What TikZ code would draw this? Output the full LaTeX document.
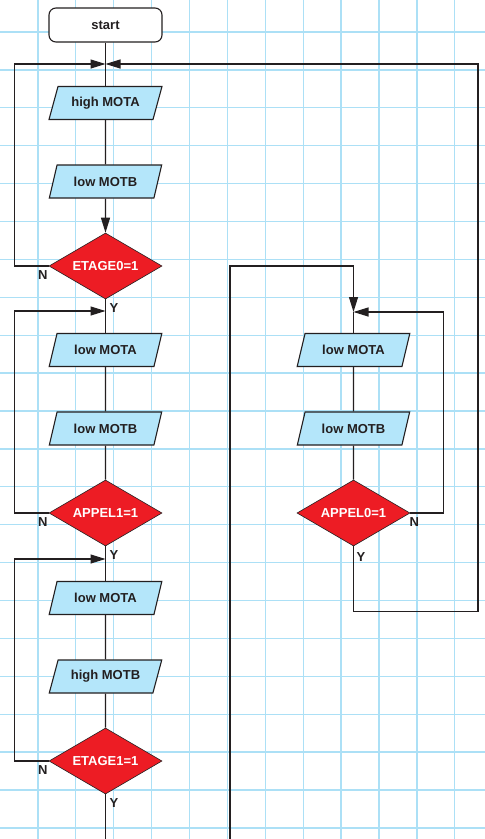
\documentclass[tikz,border=0pt]{standalone}
\usepackage{fontspec}
\setmainfont{Liberation Sans}
\usetikzlibrary{shapes.geometric,arrows.meta,calc}
\definecolor{gridc}{RGB}{172,224,246}
\definecolor{ink}{RGB}{35,31,32}
\definecolor{pfill}{RGB}{180,230,250}
\definecolor{dred}{RGB}{237,28,36}
\tikzset{
  base/.style={font=\fontsize{13}{13}\selectfont\bfseries, text=ink},
  para/.style={base, trapezium, trapezium left angle=62, trapezium right angle=118,
    trapezium stretches=true, minimum width=113pt, minimum height=33pt, inner sep=0pt,
    draw=ink, line width=1.1pt, fill=pfill},
  dec/.style={base, diamond, aspect=1.71, minimum width=113pt, minimum height=66pt,
    inner sep=0pt, draw=ink, line width=0.6pt, fill=dred, text=white},
  term/.style={base, rectangle, rounded corners=7pt, minimum width=113pt, minimum height=34pt,
    inner sep=0pt, draw=ink, line width=1.1pt, fill=white},
  lbl/.style={base, inner sep=0pt},
  conn/.style={draw=ink, line width=1.1pt},
  arr/.style={-{Triangle[length=15pt,width=9pt]}},
}
\begin{document}
\begin{tikzpicture}[x=1pt,y=-1pt]
\useasboundingbox (0,0) rectangle (485,839);
\fill[white] (0,0) rectangle (485,839);
% grid
\foreach \i in {1,...,12} \draw[gridc,line width=1.3pt] (37.9*\i,0) -- (37.9*\i,839);
\foreach \j in {0,...,21} \draw[gridc,line width=1.3pt] (0,32+37.9*\j) -- (485,32+37.9*\j);

% main column
\node[term] (start) at (105.5,25) {start};
\coordinate (m1) at (105.5,64);
\node[para] (p1) at (105.5,103) {high MOTA};
\node[para] (p2) at (105.5,181.5) {low MOTB};
\node[dec] (d0) at (105.5,266) {ETAGE0=1};
\coordinate (m2) at (105.5,311);
\node[para] (p3) at (105.5,350) {low MOTA};
\node[para] (p4) at (105.5,428.5) {low MOTB};
\node[dec] (d1) at (105.5,513) {APPEL1=1};
\coordinate (m3) at (105.5,559);
\node[para] (p5) at (105.5,598) {low MOTA};
\node[para] (p6) at (105.5,676.5) {high MOTB};
\node[dec] (d2) at (105.5,761) {ETAGE1=1};
\coordinate (bm) at (105.5,839);

% right column
\coordinate (bl) at (230,839);
\coordinate (m4) at (353.5,312);
\node[para] (q1) at (353.5,350) {low MOTA};
\node[para] (q2) at (353.5,428.5) {low MOTB};
\node[dec] (a0) at (353.5,513) {APPEL0=1};

% labels
\node[lbl] (n0) at ($(d0.west)+(-6,9.5)$) {N};
\node[lbl] (y0) at ($(d0.south)+(8.5,8.5)$) {Y};
\node[lbl] (n1) at ($(d1.west)+(-6,9.5)$) {N};
\node[lbl] (y1) at ($(d1.south)+(8.5,8.5)$) {Y};
\node[lbl] (n2) at ($(d2.west)+(-6,9.5)$) {N};
\node[lbl] (y2) at ($(d2.south)+(8.5,8.5)$) {Y};
\node[lbl] (n3) at ($(a0.east)+(4,9.5)$) {N};
\node[lbl] (y3) at ($(a0.south)+(7.5,10.5)$) {Y};

% main connectors
\draw[conn] (start) -- (m1) -- (p1);
\draw[conn] (p1) -- (p2);
\draw[conn,arr] (p2) -- (d0);
\draw[conn] (d0) -- (m2) -- (p3);
\draw[conn] (p3) -- (p4);
\draw[conn] (p4) -- (d1);
\draw[conn] (d1) -- (m3) -- (p5);
\draw[conn] (p5) -- (p6);
\draw[conn] (p6) -- (d2);
\draw[conn] (d2) -- (bm);

% left loops
\draw[conn,arr] (d0.west) -- ++(-34,0) |- (m1);
\draw[conn,arr] (d1.west) -- ++(-34,0) |- (m2);
\draw[conn,arr] (d2.west) -- ++(-34,0) |- (m3);

% right column connectors
\draw[conn,arr] (bl) -- ++(0,-573) -| (m4);
\draw[conn] (m4) -- (q1);
\draw[conn] (q1) -- (q2);
\draw[conn] (q2) -- (a0);
\draw[conn,arr] (a0.east) -- ++(33,0) |- (m4);
\draw[conn,arr] (a0.south) -- ++(0,65.5) -- ++(124.5,0) |- (m1);
\end{tikzpicture}
\end{document}
